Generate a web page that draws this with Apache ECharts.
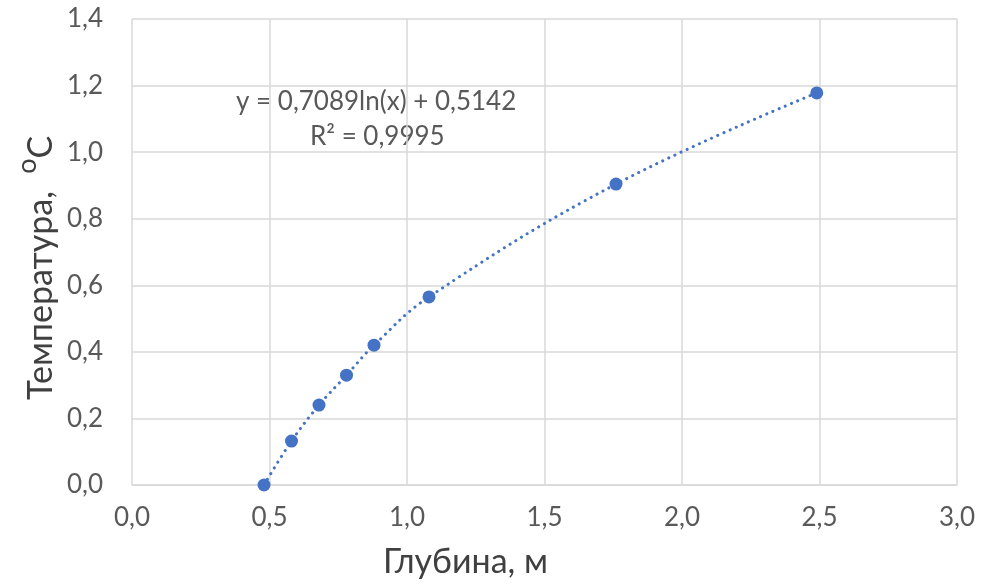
<!DOCTYPE html>
<html><head><meta charset="utf-8">
<script src="https://cdn.jsdelivr.net/npm/echarts@6/dist/echarts.min.js"></script>
<style>html,body{margin:0;padding:0;background:#fff}#c{width:981px;height:586px}</style>
</head><body><div id="c"></div>
<script>
const depth = [0.48, 0.58, 0.68, 0.78, 0.88, 1.08, 1.76, 2.49];
const temperature = [0.0, 0.132, 0.24, 0.33, 0.42, 0.565, 0.904, 1.178];
const equationText = 'y = 0,7089ln(x) + 0,5142';
const r2Text = 'R² = 0,9995';
const xTitle = 'Глубина, м';
const yTitle = 'Температура,  ';
const FONT = 'Lato';
const fmt = v => v.toFixed(1).replace('.', ',');
const pts = depth.map((d, i) => [d, temperature[i]]);
const chart = echarts.init(document.getElementById('c'), null, {renderer: 'canvas'});
chart.setOption({
  animation: false,
  grid: {left: 132, right: 24, top: 19, bottom: 101, containLabel: false},
  xAxis: {
    type: 'value', min: 0, max: 3, interval: 0.5,
    axisLine: {show: true, lineStyle: {color: '#d9d9d9', width: 1.5}},
    axisTick: {show: false},
    splitLine: {show: true, lineStyle: {color: '#d9d9d9', width: 1.5}},
    axisLabel: {formatter: fmt, color: '#595959', fontSize: 26, fontFamily: FONT, margin: 20}
  },
  yAxis: {
    type: 'value', min: 0, max: 1.4, interval: 0.2,
    axisLine: {show: false}, axisTick: {show: false},
    splitLine: {show: true, lineStyle: {color: '#d9d9d9', width: 1.5}},
    axisLabel: {formatter: fmt, color: '#595959', fontSize: 26, fontFamily: FONT, margin: 29}
  },
  series: [
    {type: 'line', data: pts, smooth: 0.4, symbol: 'none',
     lineStyle: {color: '#4472C4', width: 3, type: [0.1, 6.6], cap: 'round'}, z: 2},
    {type: 'scatter', data: pts, symbolSize: 13,
     itemStyle: {color: '#4472C4', opacity: 1}, z: 3}
  ],
  graphic: [
    {type: 'text', left: 236, top: 89, style: {text: equationText, fill: '#595959', font: '26px ' + FONT}},
    {type: 'text', left: 310, top: 124, style: {text: r2Text, fill: '#595959', font: '26px ' + FONT}},
    {type: 'text', left: 383, top: 545, style: {text: xTitle, fill: '#404040', font: '34px ' + FONT}},
    {type: 'text', x: 14, y: 400, rotation: Math.PI / 2,
     style: {text: '{m|' + yTitle + '}{s|o}{m|С}', fill: '#404040',
       rich: {m: {fontSize: 34, fontFamily: FONT, fill: '#404040', verticalAlign: 'bottom', lineHeight: 44},
              s: {fontSize: 27, fontFamily: FONT, fill: '#404040', verticalAlign: 'top', lineHeight: 44}}}}
  ]
});
</script></body></html>
